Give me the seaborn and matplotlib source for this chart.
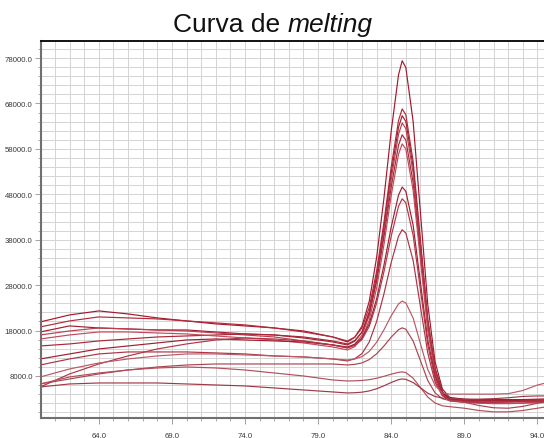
import matplotlib
matplotlib.use("Agg")
import matplotlib.pyplot as plt
import numpy as np
import pandas as pd
import seaborn as sns

# Temperature grid (°C) shared by every well
temps = [60, 62, 64, 66, 68, 70, 72, 74, 76, 78, 80, 81, 81.5, 82, 82.5, 83, 83.5,
         84, 84.5, 84.75, 85, 85.5, 86, 86.5, 87, 87.5, 88, 89, 90, 91, 92, 93, 94, 95]

# Fluorescence readings per well
well_a = [19900, 21440, 22320, 21660, 20780, 20120, 19460, 19020, 18570, 17910, 16590, 15490,
          16500, 18960, 24470, 34060, 47060, 61920, 74300, 77400,
          75900, 64000, 43900, 23760, 11100, 5140, 3270,
          2900, 2700, 2600, 2600, 2600, 2700, 2700]
well_b = [18800, 20120, 21000, 20780, 20560, 20120, 19680, 19240, 18570, 17690, 16590, 15710,
          16530, 18570, 23120, 31040, 41770, 54030, 64250, 66800,
          65510, 55230, 37870, 20500, 9570, 4430, 2820,
          2500, 2300, 2200, 2300, 2500, 2600, 2600]
well_c = [17690, 19020, 18570, 18350, 18130, 18130, 17690, 17250, 17030, 16370, 15490, 14830,
          15640, 17660, 22150, 29970, 40570, 52680, 62780, 65300,
          64050, 54030, 37130, 20230, 9590, 4580, 3010,
          2700, 2600, 2500, 2500, 2400, 2400, 2400]
well_d = [17030, 17910, 18570, 18350, 18130, 17910, 17470, 17030, 16590, 15710, 14830, 14170,
          14960, 16940, 21350, 29030, 39430, 51320, 61220, 63700,
          62470, 52670, 36120, 19560, 9140, 4240, 2710,
          2300, 2100, 2000, 2000, 2100, 2200, 2300]
well_e = [14610, 15050, 15710, 16150, 16590, 16810, 17030, 17250, 17030, 16590, 15710, 15050,
          15790, 17630, 21730, 28870, 38540, 49590, 58800, 61100,
          59930, 50570, 34780, 18980, 9040, 4360, 2890,
          2600, 2600, 2700, 2700, 2800, 2900, 3000]
well_f = [16150, 17030, 17690, 17690, 17470, 17250, 16810, 16370, 15930, 15270, 14390, 13730,
          14460, 16270, 20310, 27340, 36870, 47760, 56830, 59100,
          57960, 48860, 33500, 18130, 8460, 3910, 2480,
          2200, 2000, 1900, 1900, 2000, 2100, 2200]
well_g = [11750, 12850, 13950, 14610, 15270, 15930, 16150, 15930, 15710, 15490, 14830, 14390,
          14950, 16360, 19500, 24950, 32350, 40800, 47840, 49600,
          48660, 41180, 28540, 15900, 7950, 4200, 3030,
          2800, 2800, 2800, 2800, 2800, 2700, 2700]
well_h = [5580, 8440, 10640, 12410, 13950, 15050, 15930, 16370, 16150, 15710, 14830, 14170,
          14700, 16010, 18930, 24020, 30910, 38790, 45360, 47000,
          46110, 38970, 26930, 14890, 7310, 3740, 2620,
          2300, 2200, 2200, 2300, 2400, 2500, 2600]
well_i = [10420, 11750, 12850, 13290, 13290, 13290, 13070, 12850, 12410, 12190, 11750, 11310,
          11770, 12930, 15500, 19980, 26040, 32980, 38760, 40200,
          39450, 33410, 23240, 13060, 6650, 3630, 2690,
          2400, 2300, 2300, 2300, 2400, 2400, 2500]
well_j = [7780, 9540, 10860, 11750, 12410, 12850, 12850, 12630, 12410, 12190, 11750, 11530,
          11740, 12260, 13410, 15420, 18140, 21260, 23850, 24500,
          24080, 20740, 15100, 9450, 5900, 4230, 4000,
          4000, 4000, 4000, 4100, 4800, 6000, 6800]
well_k = [6240, 7340, 8440, 9320, 9980, 10420, 10640, 10640, 10640, 10640, 10640, 10420,
          10550, 10880, 11610, 12870, 14590, 16560, 18190, 18600,
          18280, 15700, 11360, 7010, 4270, 2980, 2580,
          2200, 1500, 1000, 900, 1300, 2000, 2600]
well_l = [6240, 7780, 8660, 9320, 9760, 9980, 9760, 9320, 8660, 8000, 7120, 6900,
          6930, 7010, 7190, 7500, 7920, 8400, 8800, 8900,
          8750, 7510, 5440, 3360, 2050, 1430, 1240,
          900, 400, 100, 100, 400, 900, 1400]
well_m = [5580, 6240, 6460, 6460, 6460, 6240, 6020, 5800, 5360, 4920, 4480, 4260,
          4310, 4430, 4710, 5180, 5830, 6570, 7190, 7340,
          7250, 6560, 5390, 4220, 3480, 3130, 3020,
          2900, 2900, 3000, 3200, 3500, 3600, 3600]

wells = {"A": well_a, "B": well_b, "C": well_c, "D": well_d, "E": well_e,
         "F": well_f, "G": well_g, "H": well_h, "I": well_i, "J": well_j,
         "K": well_k, "L": well_l, "M": well_m}

line_colors = ["#a3182c", "#b22a3c", "#9c2233", "#b8404f", "#a82738", "#c04a5a",
               "#a01e30", "#b33546", "#ac3344", "#b85a66", "#a94452", "#b0505c",
               "#9e3a48"]

x_ticks = [64, 69, 74, 79, 84, 89, 94]
y_ticks = [8000, 18000, 28000, 38000, 48000, 58000, 68000, 78000]

df = pd.concat(
    [pd.DataFrame({"well": name, "temp": temps, "fluor": vals}) for name, vals in wells.items()],
    ignore_index=True,
)

sns.set_style("white")
plt.rcParams["font.family"] = ["Liberation Sans", "DejaVu Sans"]

fig = plt.figure(figsize=(5.44, 4.39), dpi=100)
ax = fig.add_axes([0.0754, 0.0456, 0.93, 0.8587])

sns.lineplot(data=df, x="temp", y="fluor", hue="well", palette=line_colors,
             legend=False, linewidth=0.85, ax=ax, estimator=None, sort=False)

ax.set_xlim(60.05, 94.65)
ax.set_ylim(-1250, 81750)

ax.set_xticks(x_ticks)
ax.set_xticklabels([f"{t:.1f}" for t in x_ticks])
ax.set_yticks(y_ticks)
ax.set_yticklabels([f"{t:.1f}" for t in y_ticks])
ax.set_xticks(np.arange(61, 95, 1), minor=True)
ax.set_yticks(np.arange(0, 82000, 2000), minor=True)

ax.grid(True, which="both", color="#d3d3d3", linewidth=0.7)
ax.set_axisbelow(True)

ax.tick_params(axis="both", which="major", labelsize=5.6, labelcolor="#3a3a3a",
               length=4, width=0.7, color="#a0a0a0", direction="out", pad=2)
ax.tick_params(axis="both", which="minor", length=2.5, width=0.6, color="#a0a0a0",
               direction="out")
ax.tick_params(axis="x", which="major", pad=6)
ax.tick_params(axis="y", which="both", left=True)
ax.tick_params(axis="x", which="both", bottom=True)

ax.set_xlabel("")
ax.set_ylabel("")

for side in ("left", "bottom"):
    ax.spines[side].set_color("#707070")
    ax.spines[side].set_linewidth(1.5)
ax.spines["top"].set_color("#111111")
ax.spines["top"].set_linewidth(1.4)
ax.spines["right"].set_visible(False)

fig.text(0.528, 0.927, "Curva de ", fontsize=19, ha="right", va="baseline", color="#111111")
fig.text(0.528, 0.927, "melting", fontsize=19, ha="left", va="baseline",
         style="italic", color="#111111")

fig.savefig("out.png", dpi=100)
